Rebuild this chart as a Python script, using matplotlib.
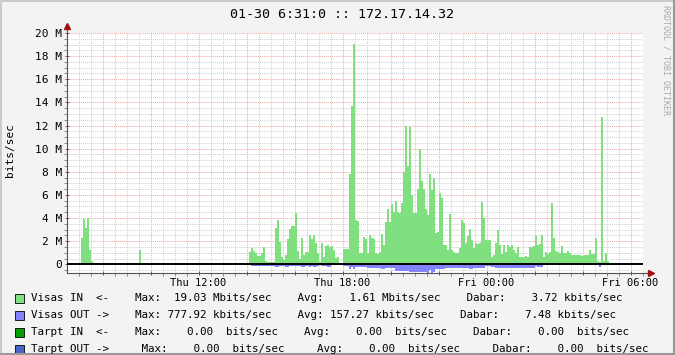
import numpy as np
import matplotlib
matplotlib.use("Agg")
import matplotlib.pyplot as plt
from matplotlib.patches import Rectangle
from matplotlib.lines import Line2D
from matplotlib.ticker import FixedLocator, MultipleLocator, FuncFormatter

# 5 minute samples, 24 h starting Thu 06:31 (one row = one hour), Mbit/s
visas_in = [
    0, 0, 0, 0, 0, 0, 0, 2.3, 3.9, 3.1, 4.0, 1.2,
    0.3, 0, 0, 0, 0, 0, 0, 0, 0, 0, 0, 0,
    0, 0, 0, 0.1, 0, 0, 0, 0, 0, 0, 0, 0,
    1.2, 0.1, 0, 0, 0, 0, 0, 0, 0, 0, 0, 0,
    0, 0, 0, 0, 0, 0, 0, 0, 0, 0, 0, 0,
    0, 0, 0, 0, 0, 0, 0, 0, 0, 0, 0, 0,
    0, 0, 0, 0, 0, 0, 0, 0, 0, 0, 0, 0,
    0, 0, 0, 0, 0, 0, 0, 1.04, 1.39, 1.19, 0.96, 0.72,
    0.72, 0.99, 1.51, 0.26, 0.2, 0.2, 0.2, 0.2, 3.13, 3.86, 1.94, 0.67,
    0.38, 0.8, 2.23, 3.04, 3.33, 3.33, 4.43, 1.16, 0.5, 2.29, 0.8, 1.1,
    1.1, 2.55, 2.17, 2.55, 1.83, 1.0, 0.17, 1.86, 0.67, 1.62, 1.68, 1.48,
    1.6, 1.25, 0.58, 0.67, 0, 0, 1.3, 1.3, 1.3, 7.8, 13.7, 19.03,
    3.84, 3.78, 1.0, 1.0, 2.34, 2.16, 1.0, 2.5, 2.25, 2.16, 1.0, 0.87,
    1.1, 2.6, 1.67, 3.7, 4.76, 3.7, 5.2, 4.56, 5.5, 4.56, 4.4, 5.3,
    8.0, 12.0, 8.5, 11.9, 6.0, 4.4, 4.4, 6.5, 10.0, 7.2, 6.5, 4.8,
    4.27, 7.8, 6.4, 7.5, 2.7, 2.77, 6.15, 5.7, 1.67, 1.67, 1.24, 4.33,
    1.24, 1.1, 1.0, 1.0, 1.44, 3.84, 3.55, 1.82, 2.45, 3.09, 2.1, 1.44,
    1.82, 1.73, 1.82, 5.43, 4.04, 2.1, 2.1, 2.1, 0.66, 0.8, 1.82, 2.97,
    1.67, 0.87, 1.67, 1.1, 1.67, 1.53, 1.67, 1.24, 1.0, 1.53, 0.66, 0.66,
    0.6, 0.72, 0.6, 1.53, 1.47, 1.59, 2.45, 1.67, 1.76, 2.54, 0.66, 1.04,
    0.9, 1.1, 5.28, 2.31, 1.15, 1.1, 0.95, 1.62, 0.95, 1.0, 1.15, 0.95,
    0.78, 0.81, 0.81, 0.81, 0.81, 0.75, 0.8, 0.78, 0.8, 1.21, 0.87, 0.87,
    2.25, 0.29, 0.23, 12.73, 0.29, 1.0, 0.29, 0.14, 0, 0, 0, 0,
    0, 0, 0, 0, 0, 0, 0.05, 0, 0, 0, 0, 0,
]
visas_out = [
    0, 0, 0, 0, 0, 0, 0, 0, 0, 0, 0, 0,
    0, 0, 0, 0, 0, 0, 0, 0, 0, 0, 0, 0,
    0, 0, 0, 0, 0, 0, 0, 0, 0, 0, 0, 0,
    0, 0, 0, 0, 0, 0, 0, 0, 0, 0, 0, 0,
    0, 0, 0, 0, 0, 0, 0, 0, 0, 0, 0, 0,
    0, 0, 0, 0, 0, 0, 0, 0, 0, 0, 0, 0,
    0, 0, 0, 0, 0, 0, 0, 0, 0, 0, 0, 0,
    0, 0, 0, 0, 0, 0, 0, 0, 0.12, 0.12, 0.12, 0.12,
    0.12, 0.12, 0.12, 0.12, 0.12, 0.12, 0.12, 0.12, 0.23, 0.23, 0.12, 0.12,
    0.12, 0.23, 0.23, 0.12, 0.12, 0.12, 0.12, 0.12, 0.12, 0.23, 0.23, 0.12,
    0.12, 0.23, 0.12, 0.23, 0.23, 0.12, 0, 0.12, 0.12, 0.12, 0.2, 0.2,
    0.06, 0.06, 0.06, 0.06, 0, 0, 0.15, 0.15, 0.15, 0.43, 0.26, 0.43,
    0.26, 0.26, 0.26, 0.26, 0.26, 0.26, 0.3, 0.3, 0.3, 0.3, 0.3, 0.3,
    0.3, 0.43, 0.43, 0.32, 0.32, 0.32, 0.32, 0.32, 0.55, 0.55, 0.55, 0.55,
    0.55, 0.55, 0.55, 0.63, 0.63, 0.63, 0.63, 0.63, 0.63, 0.63, 0.63, 0.63,
    0.78, 0.5, 0.78, 0.63, 0.43, 0.43, 0.43, 0.43, 0.43, 0.35, 0.35, 0.35,
    0.35, 0.35, 0.3, 0.3, 0.3, 0.3, 0.3, 0.3, 0.3, 0.37, 0.37, 0.3,
    0.3, 0.3, 0.3, 0.3, 0.3, 0.15, 0.15, 0.15, 0.26, 0.26, 0.34, 0.34,
    0.34, 0.34, 0.34, 0.34, 0.34, 0.34, 0.34, 0.34, 0.34, 0.34, 0.34, 0.34,
    0.34, 0.34, 0.34, 0.34, 0.34, 0.34, 0.15, 0.2, 0.2, 0.2, 0, 0,
    0, 0.1, 0, 0, 0, 0, 0, 0, 0, 0, 0, 0,
    0, 0, 0, 0, 0, 0, 0, 0, 0, 0, 0, 0,
    0.1, 0.1, 0.26, 0.1, 0.1, 0.1, 0.1, 0.1, 0, 0, 0, 0,
    0, 0, 0, 0, 0, 0, 0, 0, 0, 0, 0, 0,
]
step_min = 5
first_label_min = 329          # Thu 12:00 is 5h29 after 06:31
tick_labels = ["Thu 12:00", "Thu 18:00", "Fri 00:00", "Fri 06:00"]

title = "01-30 6:31:0 :: 172.17.14.32"
legend_rows = [
    ("#80E080", "Visas IN  <-    Max:  19.03 Mbits/sec    Avg:    1.61 Mbits/sec    Dabar:    3.72 kbits/sec"),
    ("#8484FF", "Visas OUT ->    Max: 777.92 kbits/sec    Avg: 157.27 kbits/sec    Dabar:    7.48 kbits/sec"),
    ("#00A000", "Tarpt IN  <-    Max:    0.00  bits/sec    Avg:    0.00  bits/sec    Dabar:    0.00  bits/sec"),
    ("#4A64C8", "Tarpt OUT ->     Max:    0.00  bits/sec     Avg:    0.00  bits/sec     Dabar:    0.00  bits/sec"),
]

W, H = 675, 355
mono = "DejaVu Sans Mono"
fig = plt.figure(figsize=(W / 100, H / 100), dpi=100, facecolor="#F3F3F3")
ax = fig.add_axes([67 / W, 1 - 273 / H, 576 / W, 240 / H])
ax.set_facecolor("white")

t = np.arange(len(visas_in)) * step_min
ax.bar(t, visas_in, width=step_min, align="edge", color="#80E080", linewidth=0, zorder=2)
ax.bar(t, -np.array(visas_out), width=step_min, align="edge", color="#8484FF", linewidth=0, zorder=2)
ax.axhline(0, color="black", linewidth=1.4, zorder=3)

ax.set_xlim(0, 1440)
ax.set_ylim(-0.75, 20)

major_x = np.arange(first_label_min % 120, 1440, 120)
ax.xaxis.set_major_locator(FixedLocator(major_x))
labels_x = first_label_min + 360 * np.arange(len(tick_labels))
ax.set_xticklabels([tick_labels[list(labels_x).index(v)] if v in labels_x else "" for v in major_x])
ax.xaxis.set_minor_locator(FixedLocator(np.arange(first_label_min % 30, 1440, 30)))
ax.yaxis.set_major_locator(MultipleLocator(2))
ax.yaxis.set_minor_locator(MultipleLocator(0.5))
ax.yaxis.set_major_formatter(FuncFormatter(lambda v, p: "0" if abs(v) < 1e-9 else f"{int(round(v))} M"))

ax.set_axisbelow(True)
ax.grid(which="major", color="#E8A8A8", linestyle=(0, (1, 1)), linewidth=0.7)
ax.grid(which="minor", color="#CFCFCF", linestyle=(0, (1, 1)), linewidth=0.7)

for s in ["top", "right"]:
    ax.spines[s].set_visible(False)
for s in ["left", "bottom"]:
    ax.spines[s].set_color("#555555")
    ax.spines[s].set_linewidth(0.8)
ax.plot([0, 0], [1, 1.025], transform=ax.transAxes, color="#555555", lw=0.8, clip_on=False)
ax.plot([1, 1.012], [0, 0], transform=ax.transAxes, color="#555555", lw=0.8, clip_on=False)
ax.plot([0], [1.03], marker="^", ms=4, color="#A01010", transform=ax.transAxes, clip_on=False)
ax.plot([1.014], [0], marker=">", ms=4, color="#A01010", transform=ax.transAxes, clip_on=False)

ax.tick_params(axis="both", which="major", length=3, width=0.7, direction="inout", labelsize=8,
               colors="#A04040", labelcolor="black")
ax.tick_params(axis="both", which="minor", length=2, width=0.7, direction="out", colors="#888888")
ax.tick_params(axis="y", pad=2)
ax.tick_params(axis="x", pad=2, labelsize=7.5)
for lab in ax.get_xticklabels() + ax.get_yticklabels():
    lab.set_family(mono)

fig.text(342 / W, 1 - 14 / H, title, ha="center", va="center", family=mono, fontsize=9.6)
fig.text(10 / W, 1 - 150 / H, "bits/sec", rotation=90, ha="center", va="center", family=mono, fontsize=8)
fig.text(666 / W, 1 - 60 / H, "RRDTOOL / TOBI OETIKER", rotation=270, ha="center", va="center",
         family=mono, fontsize=6, color="#A8A8A8")

for i, (color, text) in enumerate(legend_rows):
    yc = 298 + i * 17
    fig.add_artist(Rectangle((15 / W, 1 - (yc + 4.5) / H), 9 / W, 9 / H, transform=fig.transFigure,
                             facecolor=color, edgecolor="black", linewidth=0.6))
    fig.text(31 / W, 1 - yc / H, text, ha="left", va="center", family=mono, fontsize=7.85)

# frame
fig.add_artist(Line2D([0, 1], [1 - 1 / H, 1 - 1 / H], transform=fig.transFigure, color="#CBCBCB", lw=1.5))
fig.add_artist(Line2D([1 / W, 1 / W], [0, 1], transform=fig.transFigure, color="#CBCBCB", lw=1.5))
fig.add_artist(Line2D([0, 1], [1 / H, 1 / H], transform=fig.transFigure, color="#999999", lw=1.5))
fig.add_artist(Line2D([1 - 1 / W, 1 - 1 / W], [0, 1], transform=fig.transFigure, color="#999999", lw=1.5))

fig.savefig("out.png", dpi=100, facecolor=fig.get_facecolor())
